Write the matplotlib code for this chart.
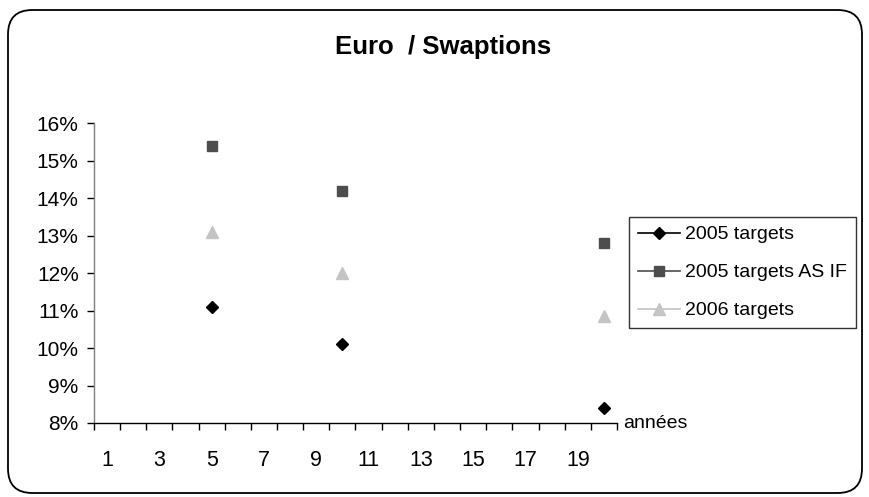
import matplotlib
matplotlib.use("Agg")
import matplotlib.pyplot as plt
from matplotlib.patches import FancyBboxPatch
from matplotlib.ticker import FixedLocator, FuncFormatter

plt.rcParams['font.family'] = ['Liberation Sans', 'DejaVu Sans']

# data
years = [5, 10, 20]
targets_2005 = [0.111, 0.101, 0.084]
targets_2005_asif = [0.154, 0.142, 0.128]
targets_2006 = [0.131, 0.120, 0.1085]
series_names = ["2005 targets", "2005 targets AS IF", "2006 targets"]
x_tick_labels = [1, 3, 5, 7, 9, 11, 13, 15, 17, 19]
y_ticks = [0.08, 0.09, 0.10, 0.11, 0.12, 0.13, 0.14, 0.15, 0.16]
title = "Euro  / Swaptions"
x_label = "années"

fig = plt.figure(figsize=(8.7, 4.97), dpi=100)
W, H = 870, 497

# rounded border
border = FancyBboxPatch((8 / W, 4 / H), (862 - 8) / W, (487 - 4) / H,
                        boxstyle="round,pad=0,rounding_size=0.028",
                        transform=fig.transFigure, fill=False,
                        edgecolor="black", linewidth=1.3,
                        mutation_aspect=W / H)
fig.patches.append(border)

ax = fig.add_axes([94 / W, 1 - 423 / H, (617 - 94) / W, (423 - 123) / H])

ax.plot(years, targets_2005, linestyle="none", marker="D", markersize=6.5,
        color="black", label=series_names[0])
ax.plot(years, targets_2005_asif, linestyle="none", marker="s", markersize=7.5,
        color="#4d4d4d", label=series_names[1])
ax.plot(years, targets_2006, linestyle="none", marker="^", markersize=9,
        color="#c4c4c4", label=series_names[2])

ax.set_xlim(0.5, 20.5)
ax.set_ylim(0.08, 0.16)

ax.xaxis.set_major_locator(FixedLocator(x_tick_labels))
ax.xaxis.set_minor_locator(FixedLocator([i + 0.5 for i in range(0, 21)]))
ax.tick_params(axis="x", which="major", length=0, pad=19.5, labelsize=15.5)
ax.tick_params(axis="x", which="minor", length=5, direction="out", width=1, color="black")
ax.set_yticks(y_ticks)
ax.yaxis.set_major_formatter(FuncFormatter(lambda v, p: f"{round(v * 100)}%"))
ax.tick_params(axis="y", which="major", length=5, direction="out", width=1,
               labelsize=15, pad=6, color="black")

for s in ["top", "right"]:
    ax.spines[s].set_visible(False)
ax.spines["left"].set_color("#7f7f7f")
ax.spines["bottom"].set_color("black")
ax.spines["left"].set_linewidth(1)
ax.spines["bottom"].set_linewidth(1)

fig.text(443 / W, 1 - 47 / H, title, ha="center", va="center",
         fontsize=18.5, fontweight="bold")

ax.text(1.012, 0.0, x_label, transform=ax.transAxes, ha="left", va="center",
        fontsize=14)

leg = ax.legend(handles=[
    plt.Line2D([], [], color="black", marker="D", markersize=6.5, linewidth=1.2),
    plt.Line2D([], [], color="#4d4d4d", marker="s", markersize=7, linewidth=1.2),
    plt.Line2D([], [], color="#c4c4c4", marker="^", markersize=8, linewidth=1.2),
], labels=series_names, loc="upper left",
    bbox_to_anchor=(629 / W, 1 - 217 / H), bbox_transform=fig.transFigure,
    frameon=True, fancybox=False, fontsize=14, handlelength=2.15,
    labelspacing=1.05, borderpad=0.45, handletextpad=0.3, borderaxespad=0)
leg.get_frame().set_edgecolor("black")
leg.get_frame().set_linewidth(1)

fig.savefig("out.png", dpi=100)
